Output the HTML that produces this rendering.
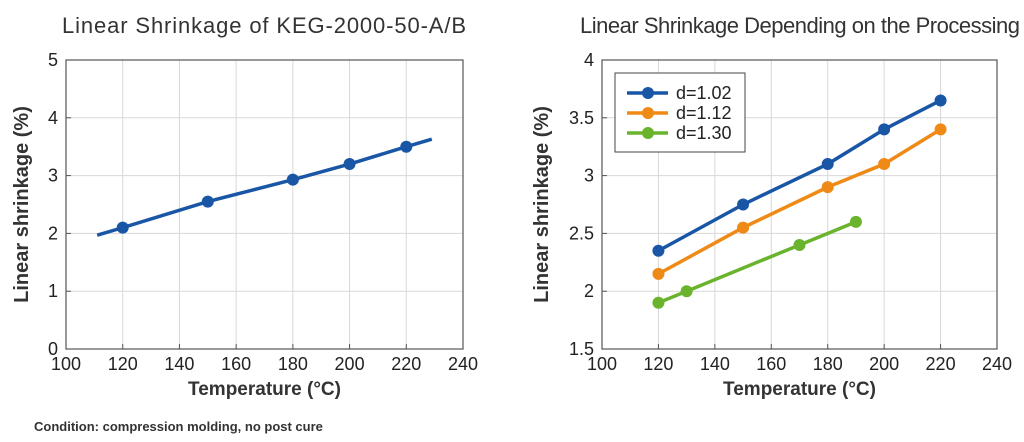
<!DOCTYPE html>
<html><head><meta charset="utf-8"><style>
html,body{margin:0;padding:0;background:#fff;width:1024px;height:442px;overflow:hidden}
svg{display:block;font-family:"Liberation Sans",sans-serif}
</style></head><body>
<svg id="s" width="1024" height="442" xmlns="http://www.w3.org/2000/svg">
<text x="264" y="33" font-size="22" text-anchor="middle" fill="#333" textLength="404">Linear Shrinkage of KEG-2000-50-A/B</text>
<text x="800" y="33" font-size="22" text-anchor="middle" fill="#333" textLength="440">Linear Shrinkage Depending on the Processing</text>
<text x="34" y="431" font-size="13" font-weight="bold" fill="#333">Condition: compression molding, no post cure</text>
</svg>
<script>
const s=document.getElementById('s'),NS='http://www.w3.org/2000/svg';
function el(t,a,txt){const e=document.createElementNS(NS,t);for(const k in a)e.setAttribute(k,a[k]);if(txt!==undefined)e.textContent=txt;s.appendChild(e);return e;}
function chart(L,R,T,B,ymin,ymax,ystep,ylabs,series,ylab,yoff){
 const fx=v=>L+(v-100)/140*(R-L), fy=v=>B-(v-ymin)/(ymax-ymin)*(B-T);
 for(let v=120;v<240;v+=20){el('line',{x1:fx(v),x2:fx(v),y1:T,y2:B,stroke:'#d8d8d8','stroke-width':1});el('line',{x1:fx(v),x2:fx(v),y1:B,y2:B-5,stroke:'#555'});}
 for(let v=ymin+ystep;v<ymax-1e-9;v+=ystep){el('line',{x1:L,x2:R,y1:fy(v),y2:fy(v),stroke:'#d8d8d8'});el('line',{x1:L,x2:L+5,y1:fy(v),y2:fy(v),stroke:'#555'});}
 el('rect',{x:L,y:T,width:R-L,height:B-T,fill:'none',stroke:'#555','stroke-width':1.2});
 for(let v=100;v<=240;v+=20)el('text',{x:fx(v),y:B+21,'font-size':18,'text-anchor':'middle',fill:'#222'},v);
 ylabs.forEach(v=>el('text',{x:L-8,y:fy(v)+6,'font-size':18,'text-anchor':'end',fill:'#222'},String(v)));
 el('text',{x:(L+R)/2,y:B+46,'font-size':19,'font-weight':'bold','text-anchor':'middle',fill:'#333'},'Temperature (°C)');
 el('text',{x:0,y:0,'font-size':20,'font-weight':'bold','text-anchor':'middle',fill:'#333',transform:'translate('+(L-yoff)+','+((T+B)/2)+') rotate(-90)'},ylab);
 series.forEach(sr=>{
  const pts=(sr.line||sr.pts).map(p=>fx(p[0])+','+fy(p[1])).join(' ');
  el('polyline',{points:pts,fill:'none',stroke:sr.c,'stroke-width':3.5});
  sr.pts.forEach(p=>el('circle',{cx:fx(p[0]),cy:fy(p[1]),r:6,fill:sr.c}));
 });
}
chart(66,463,60,349,0,5,1,[0,1,2,3,4,5],[{c:'#1a56a6',pts:[[120,2.1],[150,2.55],[180,2.93],[200,3.2],[220,3.5]],line:[[111,1.97],[120,2.1],[150,2.55],[180,2.93],[200,3.2],[220,3.5],[229,3.63]]}],'Linear shrinkage (%)',38);
chart(602,997,60,349,1.5,4,0.5,[1.5,2,2.5,3,3.5,4],[
 {c:'#1a56a6',pts:[[120,2.35],[150,2.75],[180,3.1],[200,3.4],[220,3.65]]},
 {c:'#ef8a17',pts:[[120,2.15],[150,2.55],[180,2.9],[200,3.1],[220,3.4]]},
 {c:'#6ab42d',pts:[[120,1.9],[130,2.0],[170,2.4],[190,2.6]]}],'Linear shrinkage (%)',54);
el('rect',{x:615,y:73,width:130,height:79,fill:'#fff',stroke:'#444'});
[['#1a56a6','d=1.02',93],['#ef8a17','d=1.12',113],['#6ab42d','d=1.30',133]].forEach(([c,t,y])=>{
 el('line',{x1:627,x2:668,y1:y,y2:y,stroke:c,'stroke-width':3.5});el('circle',{cx:648,cy:y,r:6,fill:c});
 el('text',{x:676,y:y+6,'font-size':18,fill:'#222'},t);});
</script>
</body></html>
